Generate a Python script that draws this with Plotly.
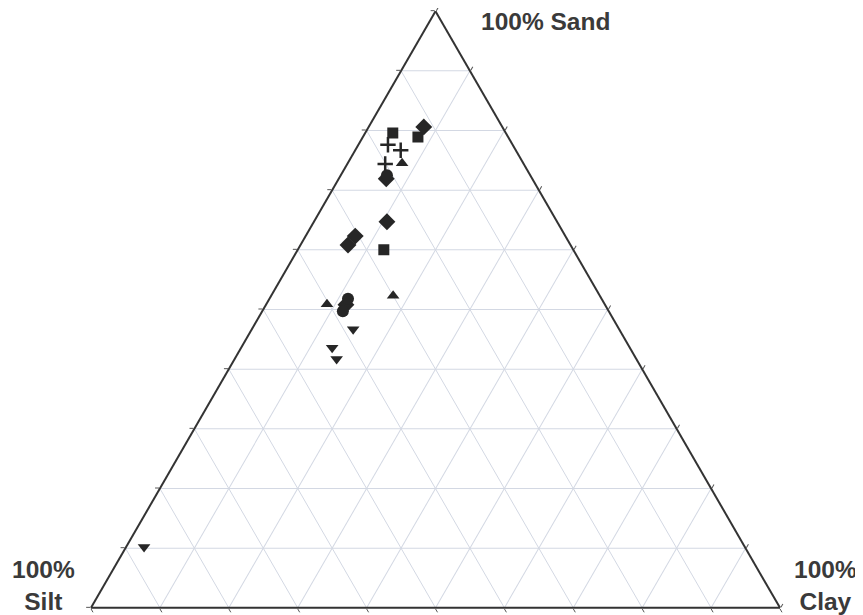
import plotly.graph_objects as go

# Sand (top), Silt (bottom left), Clay (bottom right), in %
square_sand = [79.6, 78.9, 60.0]
square_silt = [16.4, 13.1, 27.5]
square_clay = [4.0, 8.0, 12.5]

diamond_sand = [80.6, 64.7, 62.3, 60.8, 71.9, 50.8]
diamond_silt = [11.4, 24.7, 30.5, 32.3, 21.2, 37.6]
diamond_clay = [8.0, 10.6, 7.2, 6.9, 6.9, 11.6]

plus_sand = [77.6, 76.7, 74.4]
plus_silt = [18.1, 16.7, 20.1]
plus_clay = [4.3, 6.6, 5.5]

tri_up_sand = [74.5, 50.9, 52.3]
tri_up_silt = [17.6, 40.3, 30.0]
tri_up_clay = [7.9, 8.8, 17.7]

circle_sand = [72.5, 51.8, 49.7]
circle_silt = [20.8, 36.8, 38.6]
circle_clay = [6.7, 11.4, 11.7]

tri_down_sand = [46.7, 43.6, 41.7, 10.2]
tri_down_silt = [38.6, 43.2, 43.5, 87.2]
tri_down_clay = [14.7, 13.2, 14.8, 2.6]

series = [
    (square_sand, square_silt, square_clay, "square", 11),
    (diamond_sand, diamond_silt, diamond_clay, "diamond", 13),
    (plus_sand, plus_silt, plus_clay, "cross-thin", 11),
    (tri_up_sand, tri_up_silt, tri_up_clay, "triangle-up", 11),
    (circle_sand, circle_silt, circle_clay, "circle", 12),
    (tri_down_sand, tri_down_silt, tri_down_clay, "triangle-down", 11),
]

fig = go.Figure()
for sand, silt, clay, symbol, size in series:
    marker = dict(symbol=symbol, size=size, color="#262626")
    if symbol == "cross-thin":
        marker["line"] = dict(width=2.5, color="#262626")
    fig.add_trace(go.Scatterternary(
        a=sand, b=silt, c=clay,
        mode="markers",
        marker=marker,
        showlegend=False,
    ))

axis_style = dict(
    title=dict(text=""),
    showticklabels=False,
    ticks="outside",
    ticklen=4,
    tickcolor="#555555",
    dtick=10,
    linecolor="#333333",
    linewidth=2,
    showgrid=True,
    gridcolor="#d3d8e3",
    gridwidth=1.3,
    min=0,
)

fig.update_layout(
    width=863,
    height=615,
    paper_bgcolor="white",
    margin=dict(l=0, r=0, t=0, b=0),
    ternary=dict(
        sum=100,
        bgcolor="white",
        domain=dict(x=[83 / 863, 772 / 863], y=[15 / 615, 612 / 615]),
        aaxis=axis_style,
        baxis=axis_style,
        caxis=axis_style,
    ),
    font=dict(family="Liberation Sans, Arial, sans-serif"),
)

label_font = dict(size=24.5, color="#3a3a3a", family="Liberation Sans, Arial, sans-serif")
fig.add_annotation(text="<b>100% Sand</b>", x=537 / 863, y=1 - 14 / 615,
                   xref="paper", yref="paper", xanchor="center", yanchor="middle",
                   showarrow=False, font=label_font)
fig.add_annotation(text="<b>100%<br>Silt</b>", x=35 / 863, y=1 - 577 / 615,
                   xref="paper", yref="paper", xanchor="center", yanchor="middle",
                   showarrow=False, font=label_font)
fig.add_annotation(text="<b>100%<br>Clay</b>", x=817 / 863, y=1 - 577 / 615,
                   xref="paper", yref="paper", xanchor="center", yanchor="middle",
                   showarrow=False, font=label_font)

fig.write_html("out.html")
